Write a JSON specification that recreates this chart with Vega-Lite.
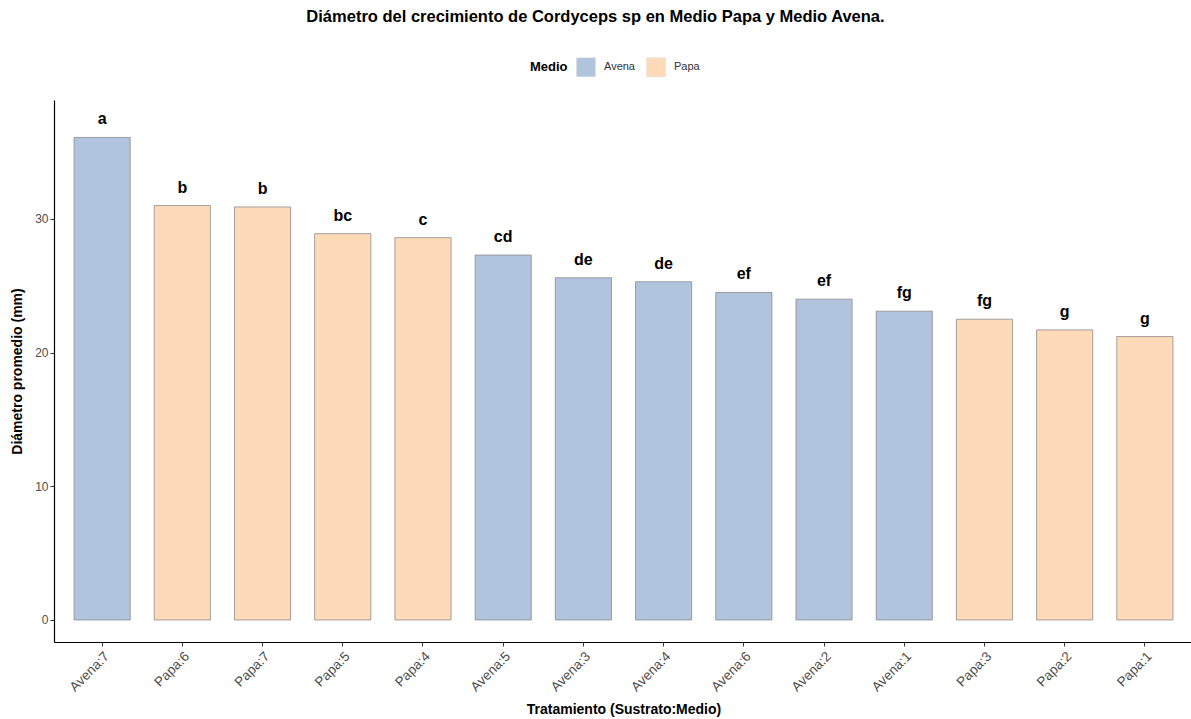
{
  "$schema": "https://vega.github.io/schema/vega-lite/v6.json",
  "autosize": {"type": "none"},
  "width": 1139,
  "height": 542,
  "padding": {"left": 54, "top": 100, "right": 0, "bottom": 77},
  "title": {
    "text": "Diámetro del crecimiento de Cordyceps sp en Medio Papa y Medio Avena.",
    "font": "Liberation Sans",
    "fontSize": 16.5,
    "fontWeight": "bold",
    "color": "#000000",
    "anchor": "middle",
    "dx": -28,
    "offset": 32
  },
  "data": {
    "values": [
      {"Tratamiento": "Avena:7", "Medio": "Avena", "Diametro": 36.1, "Grupo": "a"},
      {"Tratamiento": "Papa:6", "Medio": "Papa", "Diametro": 31.0, "Grupo": "b"},
      {"Tratamiento": "Papa:7", "Medio": "Papa", "Diametro": 30.9, "Grupo": "b"},
      {"Tratamiento": "Papa:5", "Medio": "Papa", "Diametro": 28.9, "Grupo": "bc"},
      {"Tratamiento": "Papa:4", "Medio": "Papa", "Diametro": 28.6, "Grupo": "c"},
      {"Tratamiento": "Avena:5", "Medio": "Avena", "Diametro": 27.3, "Grupo": "cd"},
      {"Tratamiento": "Avena:3", "Medio": "Avena", "Diametro": 25.6, "Grupo": "de"},
      {"Tratamiento": "Avena:4", "Medio": "Avena", "Diametro": 25.3, "Grupo": "de"},
      {"Tratamiento": "Avena:6", "Medio": "Avena", "Diametro": 24.5, "Grupo": "ef"},
      {"Tratamiento": "Avena:2", "Medio": "Avena", "Diametro": 24.0, "Grupo": "ef"},
      {"Tratamiento": "Avena:1", "Medio": "Avena", "Diametro": 23.1, "Grupo": "fg"},
      {"Tratamiento": "Papa:3", "Medio": "Papa", "Diametro": 22.5, "Grupo": "fg"},
      {"Tratamiento": "Papa:2", "Medio": "Papa", "Diametro": 21.7, "Grupo": "g"},
      {"Tratamiento": "Papa:1", "Medio": "Papa", "Diametro": 21.2, "Grupo": "g"}
    ]
  },
  "encoding": {
    "x": {
      "field": "Tratamiento",
      "type": "nominal",
      "sort": null,
      "scale": {"paddingInner": 0.3, "paddingOuter": 0.25},
      "axis": {
        "title": "Tratamiento (Sustrato:Medio)",
        "labelAngle": -45,
        "labelAlign": "right",
        "labelBaseline": "top",
        "labelFontSize": 13.5,
        "labelPadding": 3,
        "titlePadding": 9
      }
    },
    "y": {
      "field": "Diametro",
      "type": "quantitative",
      "scale": {"domain": [-1.65, 38.9], "nice": false, "zero": false},
      "axis": {
        "title": "Diámetro promedio (mm)",
        "values": [0, 10, 20, 30],
        "titlePadding": 10
      }
    }
  },
  "layer": [
    {
      "mark": {"type": "bar", "stroke": "#8c8c8c", "strokeWidth": 0.8},
      "encoding": {
        "y2": {"datum": 0},
        "fill": {
          "field": "Medio",
          "type": "nominal",
          "scale": {"domain": ["Avena", "Papa"], "range": ["#B0C4DE", "#FFDAB9"]},
          "legend": {
            "orient": "none",
            "legendX": 476,
            "legendY": -43,
            "direction": "horizontal",
            "title": "Medio",
            "titleOrient": "left",
            "titleFont": "Liberation Sans",
            "titleFontSize": 13,
            "titleFontWeight": "bold",
            "titleColor": "#000000",
            "titlePadding": 8,
            "labelFont": "Liberation Sans",
            "labelFontSize": 11,
            "labelColor": "#333333",
            "symbolType": "square",
            "symbolSize": 360,
            "symbolStrokeColor": "#dddddd",
            "symbolStrokeWidth": 0.5,
            "labelOffset": 8,
            "columnPadding": 10
          }
        }
      }
    },
    {
      "mark": {
        "type": "text",
        "dy": -10,
        "baseline": "bottom",
        "font": "Liberation Sans",
        "fontSize": 16,
        "fontWeight": "bold",
        "color": "#000000"
      },
      "encoding": {"text": {"field": "Grupo"}}
    }
  ],
  "config": {
    "view": {"stroke": null},
    "axis": {
      "grid": false,
      "domainColor": "#000000",
      "domainWidth": 1.2,
      "tickColor": "#333333",
      "tickSize": 4,
      "labelFont": "Liberation Sans",
      "labelFontSize": 12,
      "labelColor": "#4d4d4d",
      "titleFont": "Liberation Sans",
      "titleFontSize": 14,
      "titleFontWeight": "bold",
      "titleColor": "#000000"
    }
  }
}
